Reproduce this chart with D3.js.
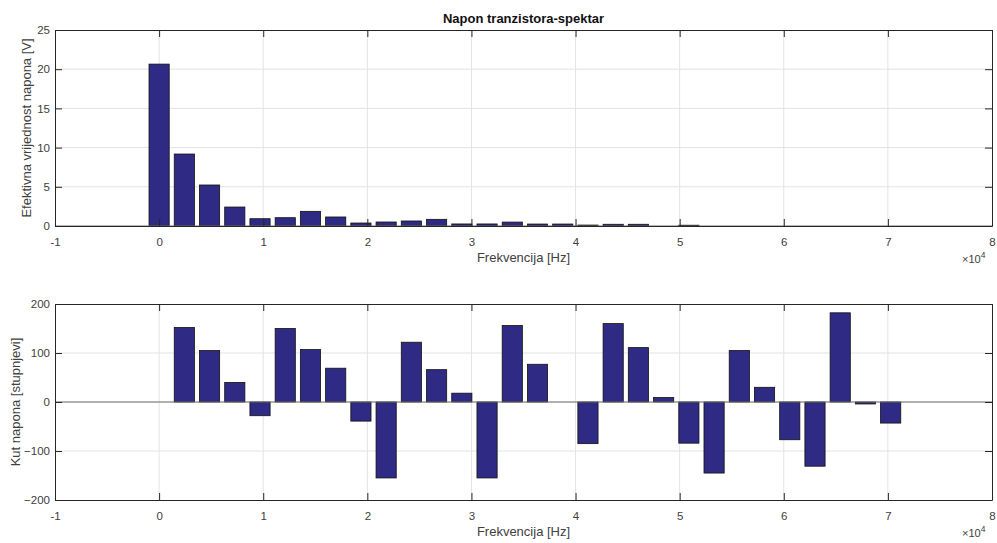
<!DOCTYPE html>
<html>
<head>
<meta charset="utf-8">
<script src="https://cdn.jsdelivr.net/npm/d3@7"></script>
<style>
  html, body { margin: 0; padding: 0; background: #fff; }
  svg { display: block; font-family: "Liberation Sans", Arial, sans-serif; }
</style>
</head>
<body>
<svg id="chart" width="997" height="543"></svg>
<script>
// ---- data ----
const frequencies = [0, 2423, 4846, 7269, 9692, 12115, 14538, 16961, 19384, 21807,
  24230, 26653, 29076, 31499, 33922, 36345, 38768, 41191, 43614, 46037,
  48460, 50883, 53306, 55729, 58152, 60575, 62998, 65421, 67844, 70267];
const amplitude = [20.65, 9.18, 5.23, 2.42, 0.93, 1.06, 1.87, 1.15, 0.38, 0.51,
  0.64, 0.85, 0.26, 0.26, 0.5, 0.25, 0.25, 0.12, 0.22, 0.22,
  0, 0.1, 0, 0, 0, 0, 0, 0, 0, 0];
const phase = [0, 152, 105, 40, -28, 150, 107, 69, -39, -155,
  122, 66, 18, -155, 156, 77, 0, -85, 160, 111,
  9, -84, -145, 105, 30, -77, -131, 182, -4, -43];
const xTicks = [-1, 0, 1, 2, 3, 4, 5, 6, 7, 8];
const yTicksTop = [0, 5, 10, 15, 20, 25];
const yTicksBottom = [-200, -100, 0, 100, 200];
const titleText = "Napon tranzistora-spektar";
const xLabelText = "Frekvencija [Hz]";
const yLabelTop = "Efektivna vrijednost napona [V]";
const yLabelBottom = "Kut napona [stupnjevi]";

// ---- layout ----
const svg = d3.select("#chart");
const left = 55, right = 992;
const barColor = "#2f2a84";
const axisColor = "#262626";
const gridColor = "#e3e3e3";
const tickTextColor = "#404040";

const x = d3.scaleLinear().domain([-10000, 80000]).range([left, right]);
const step = frequencies[1] - frequencies[0];
const barW = x(step * 0.8) - x(0);

function panel(top, bottom, yDomain, yTicks, values, yLabel, yLabelX) {
  const y = d3.scaleLinear().domain(yDomain).range([bottom, top]);
  const g = svg.append("g");

  // grid
  g.append("g").selectAll("line.vg").data(xTicks.slice(1, -1)).join("line")
    .attr("x1", d => x(d * 10000)).attr("x2", d => x(d * 10000))
    .attr("y1", top).attr("y2", bottom)
    .attr("stroke", gridColor).attr("stroke-width", 1);
  g.append("g").selectAll("line.hg").data(yTicks.slice(1, -1)).join("line")
    .attr("x1", left).attr("x2", right)
    .attr("y1", d => y(d)).attr("y2", d => y(d))
    .attr("stroke", gridColor).attr("stroke-width", 1);

  // bars
  g.append("g").selectAll("rect").data(values.map((v, i) => ({ f: frequencies[i], v })))
    .join("rect")
    .filter(d => d.v !== 0)
    .attr("x", d => x(d.f) - barW / 2)
    .attr("width", barW)
    .attr("y", d => Math.min(y(d.v), y(0)))
    .attr("height", d => Math.abs(y(d.v) - y(0)))
    .attr("fill", barColor)
    .attr("stroke", "#111")
    .attr("stroke-width", 0.8);

  // baseline
  g.append("line").attr("x1", left).attr("x2", right)
    .attr("y1", y(0)).attr("y2", y(0))
    .attr("stroke", "#707070").attr("stroke-width", 1);

  // axes (bottom, left) with inward ticks
  const xAxis = d3.axisBottom(x).tickValues(xTicks.map(d => d * 10000))
    .tickFormat(d => d / 10000).tickSizeInner(-7).tickSizeOuter(0).tickPadding(12);
  const xg = g.append("g").attr("transform", `translate(0,${bottom})`).call(xAxis);
  const yAxis = d3.axisLeft(y).tickValues(yTicks).tickSizeInner(-7).tickSizeOuter(0).tickPadding(5);
  const yg = g.append("g").attr("transform", `translate(${left},0)`).call(yAxis);
  // top and right ticks
  const xTop = d3.axisTop(x).tickValues(xTicks.map(d => d * 10000)).tickFormat("").tickSizeInner(-7).tickSizeOuter(0);
  const xtg = g.append("g").attr("transform", `translate(0,${top})`).call(xTop);
  const yRight = d3.axisRight(y).tickValues(yTicks).tickFormat("").tickSizeInner(-7).tickSizeOuter(0);
  const yrg = g.append("g").attr("transform", `translate(${right},0)`).call(yRight);

  [xg, yg, xtg, yrg].forEach(a => {
    a.selectAll("path.domain").attr("stroke", axisColor).attr("stroke-width", 1);
    a.selectAll(".tick line").attr("stroke", axisColor).attr("stroke-width", 1);
    a.selectAll("text").attr("fill", tickTextColor).attr("font-size", 11.5)
      .attr("font-family", "Liberation Sans, Arial, sans-serif");
  });

  // x label
  g.append("text").attr("x", (left + right) / 2).attr("y", bottom + 36)
    .attr("text-anchor", "middle").attr("font-size", 13).attr("fill", tickTextColor)
    .text(xLabelText);
  // exponent
  const ex = g.append("text").attr("x", right - 30).attr("y", bottom + 37)
    .attr("font-size", 11).attr("fill", tickTextColor);
  ex.append("tspan").text("\u00d710");
  ex.append("tspan").attr("dy", -5).attr("font-size", 8.5).text("4");

  // y label
  g.append("text")
    .attr("transform", `translate(${yLabelX},${(top + bottom) / 2}) rotate(-90)`)
    .attr("text-anchor", "middle").attr("font-size", 13).attr("fill", tickTextColor)
    .text(yLabel);
  return g;
}

panel(30, 226, [0, 25], yTicksTop, amplitude, yLabelTop, 31);
panel(304, 500, [-200, 200], yTicksBottom, phase, yLabelBottom, 20);

svg.append("text").attr("x", (left + right) / 2).attr("y", 23)
  .attr("text-anchor", "middle").attr("font-size", 13).attr("font-weight", "bold")
  .attr("fill", "#111").text(titleText);
</script>
</body>
</html>
